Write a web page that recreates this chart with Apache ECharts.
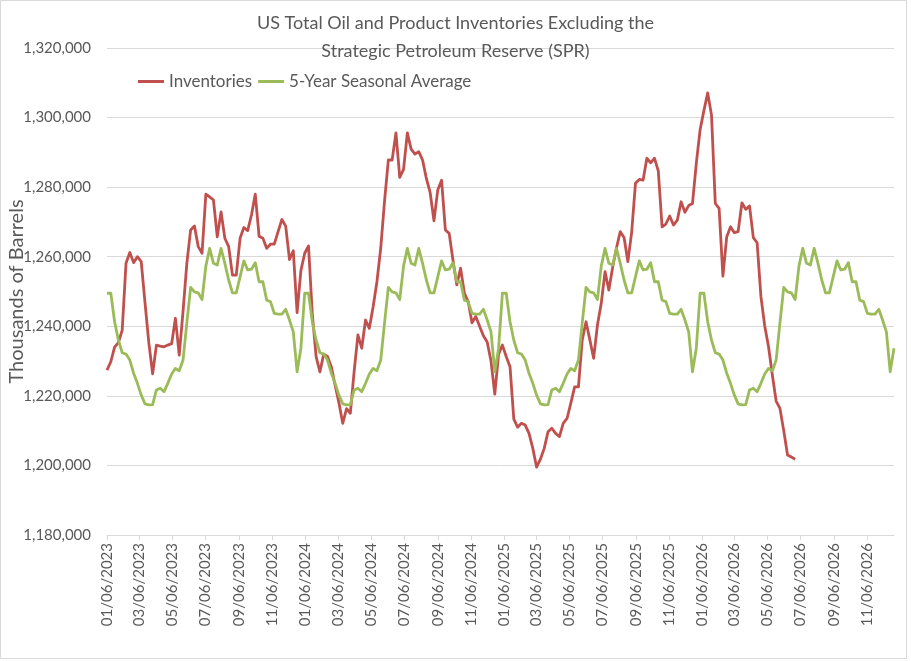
<!DOCTYPE html>
<html>
<head>
<meta charset="utf-8">
<script src="https://cdn.jsdelivr.net/npm/echarts@6/dist/echarts.min.js"></script>
<style>
  html, body { margin: 0; padding: 0; background: #fff; }
  #chart { width: 911px; height: 661px; }
</style>
</head>
<body>
<div id="chart"></div>
<script>
// weekly readings (thousands of barrels), first week is Fri 01/06/2023
var firstWeek = '2023-01-06';

var inventories2023 = [
    1227400, 1229800, 1234000, 1235300, 1238900, 1258100, 1261200, 1258300, 1260000, 1258600,
    1246700, 1235300, 1226300, 1234600, 1234300, 1234100, 1234600, 1235000, 1242300, 1231700,
    1244300, 1258100, 1267700, 1268800, 1262900, 1261000, 1278000, 1277200, 1276300, 1265700,
    1272900, 1265300, 1262900, 1254700, 1254700, 1265300, 1268400, 1267500, 1272000, 1278000,
    1265900, 1265300, 1262400, 1263600, 1263600, 1267200, 1270700, 1268800, 1259200, 1261700,
    1243900, 1256000
];
var inventories2024 = [
    1261000, 1263100, 1243600, 1231300, 1226900, 1232000, 1231300, 1228400, 1223000, 1218000,
    1212100, 1216300, 1215000, 1227000, 1237500, 1233700, 1241800, 1239400, 1245600, 1252800,
    1262500, 1276000, 1287800, 1287800, 1295600, 1282800, 1285100, 1295600, 1290900, 1289500,
    1290200, 1287800, 1282500, 1278400, 1270300, 1279200, 1282000, 1267700, 1266700, 1259000,
    1251900, 1256700, 1249500, 1247100, 1241000, 1242800, 1240000, 1237300, 1235500, 1230000,
    1220500, 1232000
];
var inventories2025 = [
    1234600, 1231300, 1228400, 1213300, 1211000, 1212100, 1211600, 1209200, 1204900, 1199500,
    1201800, 1204900, 1209700, 1210700, 1209200, 1208300, 1212100, 1213500, 1217900, 1222600,
    1222600, 1236100, 1241300, 1236100, 1230800, 1240400, 1246600, 1255700, 1250400, 1257000,
    1262500, 1267200, 1265500, 1258600, 1267000, 1281100, 1282200, 1282000, 1288300, 1287000,
    1288300, 1284700, 1268600, 1269400, 1271700, 1269100, 1270500, 1275800, 1272800, 1274700,
    1275300, 1286800
];
var inventories2026 = [
    1296500, 1302000, 1307100, 1300700, 1275300, 1273900, 1254400, 1265700, 1268600, 1266900,
    1267200, 1275500, 1273600, 1274600, 1265500, 1264000, 1248500, 1240100, 1234100, 1226000,
    1218500, 1216400, 1210000, 1203000, 1202400, 1201800
];

var seasonal2023 = [
    1249500, 1249500, 1241300, 1236000, 1232400, 1232000, 1230300, 1226500, 1223600, 1220200,
    1217700, 1217400, 1217500, 1221700, 1222200, 1221200, 1223600, 1226300, 1227900, 1227200,
    1230300, 1241000, 1251200, 1249900, 1249600, 1247700, 1257300, 1262400, 1258100, 1257600,
    1262400, 1258100, 1253300, 1249600, 1249600, 1254200, 1258800, 1256200, 1256400, 1258300,
    1252800, 1252800, 1247500, 1247100, 1243700, 1243500, 1243500, 1244900, 1241800, 1238400,
    1226900, 1233700
];
var seasonal2024 = [
    1249500, 1249500, 1241300, 1236000, 1232400, 1232000, 1230300, 1226500, 1223600, 1220200,
    1217700, 1217400, 1217500, 1221700, 1222200, 1221200, 1223600, 1226300, 1227900, 1227200,
    1230300, 1241000, 1251200, 1249900, 1249600, 1247700, 1257300, 1262400, 1258100, 1257600,
    1262400, 1258100, 1253300, 1249600, 1249600, 1254200, 1258800, 1256200, 1256400, 1258300,
    1252800, 1252800, 1247500, 1247100, 1243700, 1243500, 1243500, 1244900, 1241800, 1238400,
    1226900, 1233700
];
var seasonal2025 = [
    1249500, 1249500, 1241300, 1236000, 1232400, 1232000, 1230300, 1226500, 1223600, 1220200,
    1217700, 1217400, 1217500, 1221700, 1222200, 1221200, 1223600, 1226300, 1227900, 1227200,
    1230300, 1241000, 1251200, 1249900, 1249600, 1247700, 1257300, 1262400, 1258100, 1257600,
    1262400, 1258100, 1253300, 1249600, 1249600, 1254200, 1258800, 1256200, 1256400, 1258300,
    1252800, 1252800, 1247500, 1247100, 1243700, 1243500, 1243500, 1244900, 1241800, 1238400,
    1226900, 1233700
];
var seasonal2026 = [
    1249500, 1249500, 1241300, 1236000, 1232400, 1232000, 1230300, 1226500, 1223600, 1220200,
    1217700, 1217400, 1217500, 1221700, 1222200, 1221200, 1223600, 1226300, 1227900, 1227200,
    1230300, 1241000, 1251200, 1249900, 1249600, 1247700, 1257300, 1262400, 1258100, 1257600,
    1262400, 1258100, 1253300, 1249600, 1249600, 1254200, 1258800, 1256200, 1256400, 1258300,
    1252800, 1252800, 1247500, 1247100, 1243700, 1243500, 1243500, 1244900, 1241800, 1238400,
    1226900, 1233700
];

// x axis labels (every two months)
var tickDates = [
    '2023-01-06', '2023-03-06', '2023-05-06', '2023-07-06', '2023-09-06', '2023-11-06',
    '2024-01-06', '2024-03-06', '2024-05-06', '2024-07-06', '2024-09-06', '2024-11-06',
    '2025-01-06', '2025-03-06', '2025-05-06', '2025-07-06', '2025-09-06', '2025-11-06',
    '2026-01-06', '2026-03-06', '2026-05-06', '2026-07-06', '2026-09-06', '2026-11-06'
];

var DAY = 24 * 3600 * 1000;

function toTime(s) {
    var p = s.split('-');
    return Date.UTC(+p[0], +p[1] - 1, +p[2]);
}
function pad(n) { return n < 10 ? '0' + n : '' + n; }
function fmtDate(v) {
    var d = new Date(v);
    return pad(d.getUTCMonth() + 1) + '/' + pad(d.getUTCDate()) + '/' + d.getUTCFullYear();
}
function fmtNum(v) {
    return String(v).replace(/\B(?=(\d{3})+(?!\d))/g, ',');
}

var inventories = inventories2023.concat(inventories2024, inventories2025, inventories2026);
var seasonal = seasonal2023.concat(seasonal2024, seasonal2025, seasonal2026);
var start = toTime(firstWeek);

function pairs(vals) {
    var out = [];
    for (var i = 0; i < vals.length; i++) {
        out.push([start + i * 7 * DAY, vals[i]]);
    }
    return out;
}

var ticks = tickDates.map(toTime);
var txt = '#595959';
var font = 'Lato, "Open Sans", sans-serif';

var myChart = echarts.init(document.getElementById('chart'));
var option = {
    animation: false,
    backgroundColor: '#fff',
    textStyle: { fontFamily: font },
    graphic: [{
        type: 'rect',
        shape: { x: 0.5, y: 0.5, width: 906, height: 658 },
        style: { fill: 'none', stroke: '#d9d9d9', lineWidth: 1 },
        silent: true
    }],
    title: {
        text: 'US Total Oil and Product Inventories Excluding the\nStrategic Petroleum Reserve (SPR)',
        left: 'center',
        top: 4,
        textStyle: { color: txt, fontSize: 18, fontWeight: 'normal', lineHeight: 28, fontFamily: font }
    },
    legend: {
        left: 133,
        top: 68,
        icon: 'rect',
        itemWidth: 26,
        itemHeight: 3,
        itemGap: 6,
        textStyle: { color: txt, fontSize: 17, fontFamily: font },
        data: ['Inventories', '5-Year Seasonal Average']
    },
    grid: {
        left: 107, right: 17, top: 48, bottom: 126,
        containLabel: false,
        outerBoundsMode: 'none'
    },
    xAxis: {
        type: 'value',
        min: start,
        max: start + (seasonal.length - 1) * 7 * DAY,
        splitLine: { show: false },
        axisLine: { lineStyle: { color: '#d9d9d9', width: 1 } },
        axisTick: { show: true, length: 5, customValues: ticks, lineStyle: { color: '#d9d9d9' } },
        axisLabel: {
            customValues: ticks,
            rotate: 90,
            margin: 8,
            color: txt,
            fontSize: 15,
            fontFamily: font,
            formatter: fmtDate
        }
    },
    yAxis: {
        type: 'value',
        min: 1180000,
        max: 1320000,
        interval: 20000,
        name: 'Thousands of Barrels',
        nameLocation: 'middle',
        nameGap: 80,
        nameMoveOverlap: false,
        nameTextStyle: { color: txt, fontSize: 20, fontFamily: font },
        axisLine: { show: false },
        axisTick: { show: false },
        splitLine: { lineStyle: { color: '#d9d9d9', width: 1 } },
        axisLabel: { color: txt, fontSize: 15, margin: 16, fontFamily: font, formatter: fmtNum }
    },
    series: [
        {
            name: 'Inventories',
            type: 'line',
            showSymbol: false,
            symbol: 'none',
            data: pairs(inventories),
            itemStyle: { color: '#C0504D' },
            lineStyle: { color: '#C0504D', width: 2.8, join: 'round' }
        },
        {
            name: '5-Year Seasonal Average',
            type: 'line',
            showSymbol: false,
            symbol: 'none',
            data: pairs(seasonal),
            itemStyle: { color: '#9BBB59' },
            lineStyle: { color: '#9BBB59', width: 2.8, join: 'round' }
        }
    ]
};
myChart.setOption(option);
</script>
</body>
</html>
